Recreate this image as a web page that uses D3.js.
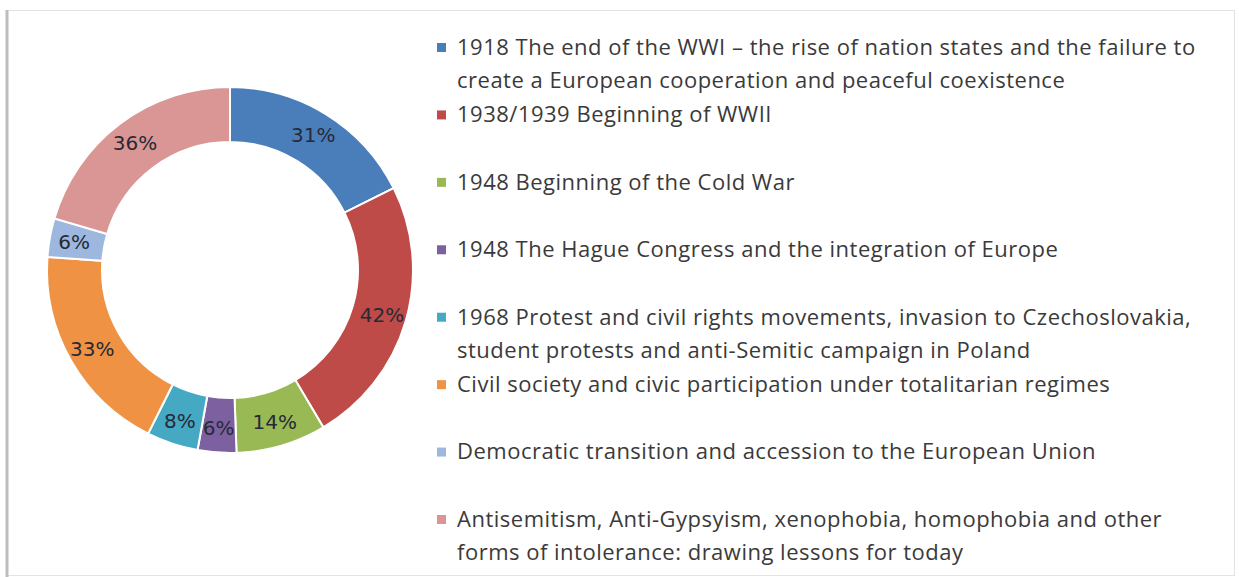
<!DOCTYPE html>
<html>
<head>
<meta charset="utf-8">
<script src="https://cdn.jsdelivr.net/npm/d3@7"></script>
<style>
  html, body { margin: 0; padding: 0; background: #fff; }
  #chart { width: 1239px; height: 577px; }
</style>
</head>
<body>
<div id="chart"></div>
<script>
// topics, in the order they go round the ring (clockwise from 12 o'clock)
const topics = [
    ["1918 The end of the WWI \u2013 the rise of nation states and the  failure to",
     "create a European cooperation and peaceful coexistence"],
    ["1938/1939 Beginning of WWII"],
    ["1948 Beginning of the Cold War"],
    ["1948 The Hague Congress and the  integration of Europe"],
    ["1968 Protest and civil rights movements, invasion to Czechoslovakia,",
     "student protests and anti-Semitic campaign in Poland"],
    ["Civil society and civic participation under totalitarian regimes"],
    ["Democratic transition and accession to the European Union"],
    ["Antisemitism, Anti-Gypsyism, xenophobia, homophobia and other",
     "forms of intolerance: drawing lessons for today"]
];
const shares = [31, 42, 14, 6, 8, 33, 6, 36];   // % shown on each slice
const colours = ["#4a7ebb", "#be4b48", "#98b954", "#7d60a0", "#46a9c4", "#ef9243", "#9db7de", "#d99694"];

function drawChart() {
    const W = 1239, H = 577;
    const svg = d3.select("#chart").append("svg")
        .attr("width", W)
        .attr("height", H);

    // frame round the chart area
    svg.append("rect")
       .attr("x", 7.5).attr("y", 10.5)
       .attr("width", 1227).attr("height", 565)
       .attr("fill", "#fff")
       .attr("stroke", "#e3e3e3");
    svg.append("line")
       .attr("x1", 7).attr("x2", 7)
       .attr("y1", 10).attr("y2", 577)
       .attr("stroke", "#bdbdbd")
       .attr("stroke-width", 3);

    const data = topics.map((t, i) => ({ lines: t, value: shares[i], color: colours[i] }));

    // donut
    const cx = 230, cy = 270, rOut = 183, rIn = 128;
    const g = svg.append("g").attr("transform", `translate(${cx},${cy})`);

    const pie = d3.pie().sort(null).value(d => d.value);
    const arc = d3.arc().innerRadius(rIn).outerRadius(rOut);
    const labelArc = d3.arc().innerRadius(rIn + 3).outerRadius(rOut + 3);

    g.selectAll(".slice")
     .data(pie(data))
     .enter().append("path")
     .attr("class", "slice")
     .attr("d", arc)
     .attr("fill", d => d.data.color)
     .attr("stroke", "#fff")
     .attr("stroke-width", 2);

    g.selectAll(".slice-label")
     .data(pie(data))
     .enter().append("text")
     .attr("class", "slice-label")
     .attr("transform", d => `translate(${labelArc.centroid(d)})`)
     .attr("text-anchor", "middle")
     .attr("dy", "0.36em")
     .style("font-family", "'DejaVu Sans', sans-serif")
     .style("font-size", "20px")
     .style("fill", "#262a36")
     .text(d => d.data.value + "%");

    // legend, rows spread evenly down the right side
    const y = d3.scalePoint().domain(d3.range(data.length)).range([47, 519]);
    const lineH = 33;

    const legend = svg.append("g").attr("class", "legend");
    const item = legend.selectAll(".item")
        .data(data)
        .enter().append("g")
        .attr("class", "item")
        .attr("transform", (d, i) => `translate(0,${y(i)})`);

    item.append("rect")
        .attr("x", 437).attr("y", -4)
        .attr("width", 9).attr("height", 9)
        .attr("fill", d => d.color);

    item.append("text")
        .attr("x", 457)
        .style("font-family", "'Open Sans', sans-serif")
        .style("font-size", "22px")
        .style("letter-spacing", "0.5px")
        .style("fill", "#3a3a3a")
        .selectAll("tspan")
        .data(d => d.lines)
        .enter().append("tspan")
        .attr("x", 457)
        .attr("y", (l, j) => j * lineH)
        .attr("dy", "0.36em")
        .text(l => l);
}

drawChart();
</script>
</body>
</html>
